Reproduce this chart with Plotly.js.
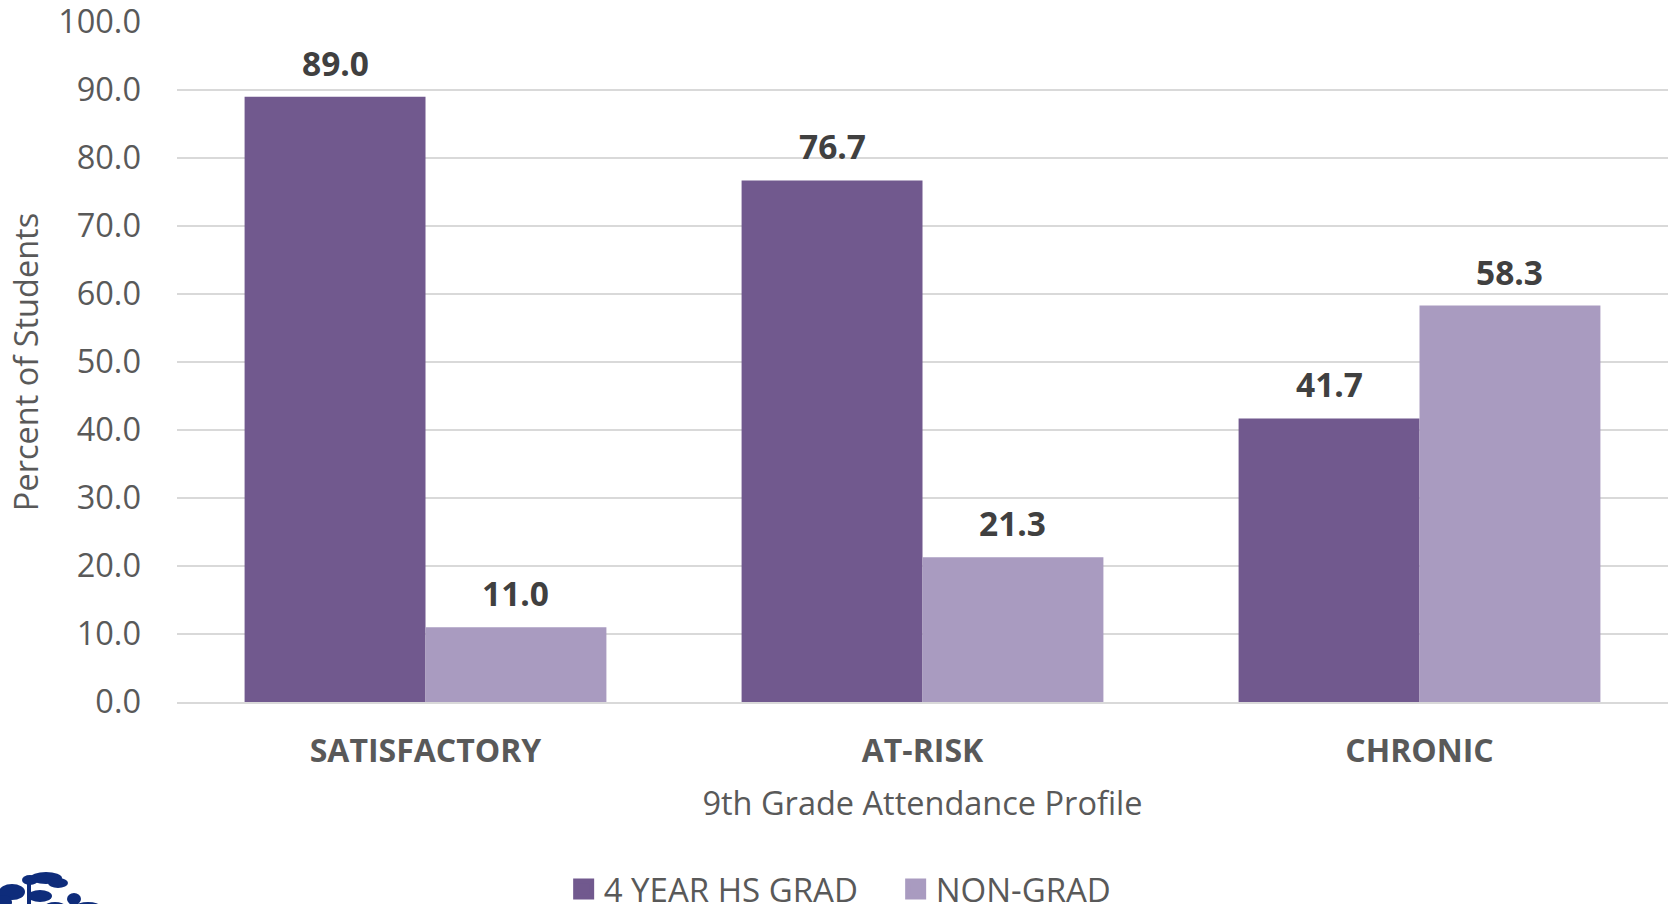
<!DOCTYPE html>
<html>
<head>
<meta charset="utf-8">
<script src="https://cdn.plot.ly/plotly-3.0.1.min.js"></script>
<style>
html,body{margin:0;padding:0;background:#fff;}
#chart{width:1673px;height:904px;}
</style>
</head>
<body>
<div id="chart"></div>
<script>
var categories = ["SATISFACTORY", "AT-RISK", "CHRONIC"];
var gradValues = [89.0, 76.7, 41.7];
var nonGradValues = [11.0, 21.3, 58.3];
var seriesNames = ["4 YEAR HS GRAD", "NON-GRAD"];
var yTickValues = [0, 10, 20, 30, 40, 50, 60, 70, 80, 90, 100];

var colors = ["#71598E", "#A99BC0"];
var font = "'Open Sans', 'Noto Sans', sans-serif";
var bargap = 0.272;

var traces = [
  {type: "bar", name: seriesNames[0], x: categories, y: gradValues, showlegend: false,
   marker: {color: colors[0]}, hoverinfo: "x+y+name"},
  {type: "bar", name: seriesNames[1], x: categories, y: nonGradValues, showlegend: false,
   marker: {color: colors[1]}, hoverinfo: "x+y+name"}
];
// legend-only entries (no visible points) with larger square symbols
seriesNames.forEach(function (n, s) {
  traces.push({type: "scatter", mode: "markers", name: n, showlegend: true,
    x: [categories[0]], y: [null],
    marker: {symbol: "square", size: 16, color: colors[s], line: {width: 5, color: colors[s]}},
    hoverinfo: "skip"});
});

var halfBar = (1 - bargap) / 4;
var annotations = [];
[gradValues, nonGradValues].forEach(function (vals, s) {
  vals.forEach(function (v, i) {
    annotations.push({
      x: i + (s === 0 ? -halfBar : halfBar), y: v, xref: "x", yref: "y",
      text: v.toFixed(1), showarrow: false, yanchor: "bottom", yshift: 9,
      font: {family: font, size: 33.5, color: "#404040", weight: 700}
    });
  });
});

var logoSvg = "<svg xmlns='http://www.w3.org/2000/svg' width='120' height='40' viewBox='0 0 120 40'>" +
  "<g fill='#0E2C7B'>" +
  "<ellipse cx='46' cy='10' rx='16' ry='6'/><ellipse cx='30' cy='12' rx='8' ry='5'/>" +
  "<ellipse cx='58' cy='15' rx='10' ry='5'/><ellipse cx='12' cy='24' rx='13' ry='8'/>" +
  "<ellipse cx='40' cy='28' rx='12' ry='6'/><ellipse cx='74' cy='31' rx='7' ry='6'/>" +
  "<ellipse cx='88' cy='38' rx='12' ry='4'/><ellipse cx='4' cy='34' rx='8' ry='7'/>" +
  "<ellipse cx='55' cy='38' rx='10' ry='4'/>" +
  "<rect x='27' y='14' width='4' height='26'/></g></svg>";

var plotTop = 22, plotH = 680, pageH = 904, plotL = 177, plotW = 1491;

var layout = {
  width: 1673, height: pageH,
  margin: {l: plotL, r: 5, t: plotTop, b: pageH - plotTop - plotH, autoexpand: false},
  paper_bgcolor: "#fff", plot_bgcolor: "#fff",
  barmode: "group", bargap: bargap, bargroupgap: 0,
  font: {family: font, color: "#595959"},
  xaxis: {
    type: "category",
    showgrid: false, showline: true, linecolor: "#D9D9D9", linewidth: 2,
    ticks: "", ticklabelstandoff: 20,
    tickfont: {family: font, size: 32, color: "#595959", weight: 700},
    title: {text: "9th Grade Attendance Profile", standoff: 22,
            font: {family: font, size: 32.5, color: "#595959"}},
    automargin: false, fixedrange: true
  },
  yaxis: {
    range: [0, 100], tickvals: yTickValues, ticklabeloverflow: "allow",
    tickformat: ".1f", showgrid: true, gridcolor: "#D9D9D9", gridwidth: 2,
    zeroline: false, showline: false, ticks: "", ticklabelstandoff: 35,
    tickfont: {family: font, size: 32.5, color: "#595959"},
    title: {text: "Percent of Students", standoff: 9,
            font: {family: font, size: 32.5, color: "#595959"}},
    automargin: false, fixedrange: true
  },
  showlegend: true,
  legend: {
    orientation: "h", x: 0.482, xanchor: "center", y: -0.275, yanchor: "middle",
    font: {family: font, size: 33, color: "#595959"},
    itemwidth: 30, traceorder: "normal", bgcolor: "rgba(0,0,0,0)",
    entrywidth: 287, entrywidthmode: "pixels"
  },
  images: [{
    source: "data:image/svg+xml;utf8," + encodeURIComponent(logoSvg),
    xref: "paper", yref: "paper",
    x: -plotL / plotW, y: -((pageH - 36) - (plotTop + plotH)) / plotH,
    sizex: 120 / plotW, sizey: 40 / plotH, xanchor: "left", yanchor: "top",
    sizing: "stretch", layer: "above"
  }],
  annotations: annotations
};

Plotly.newPlot("chart", traces, layout, {displayModeBar: false});
</script>
</body>
</html>
